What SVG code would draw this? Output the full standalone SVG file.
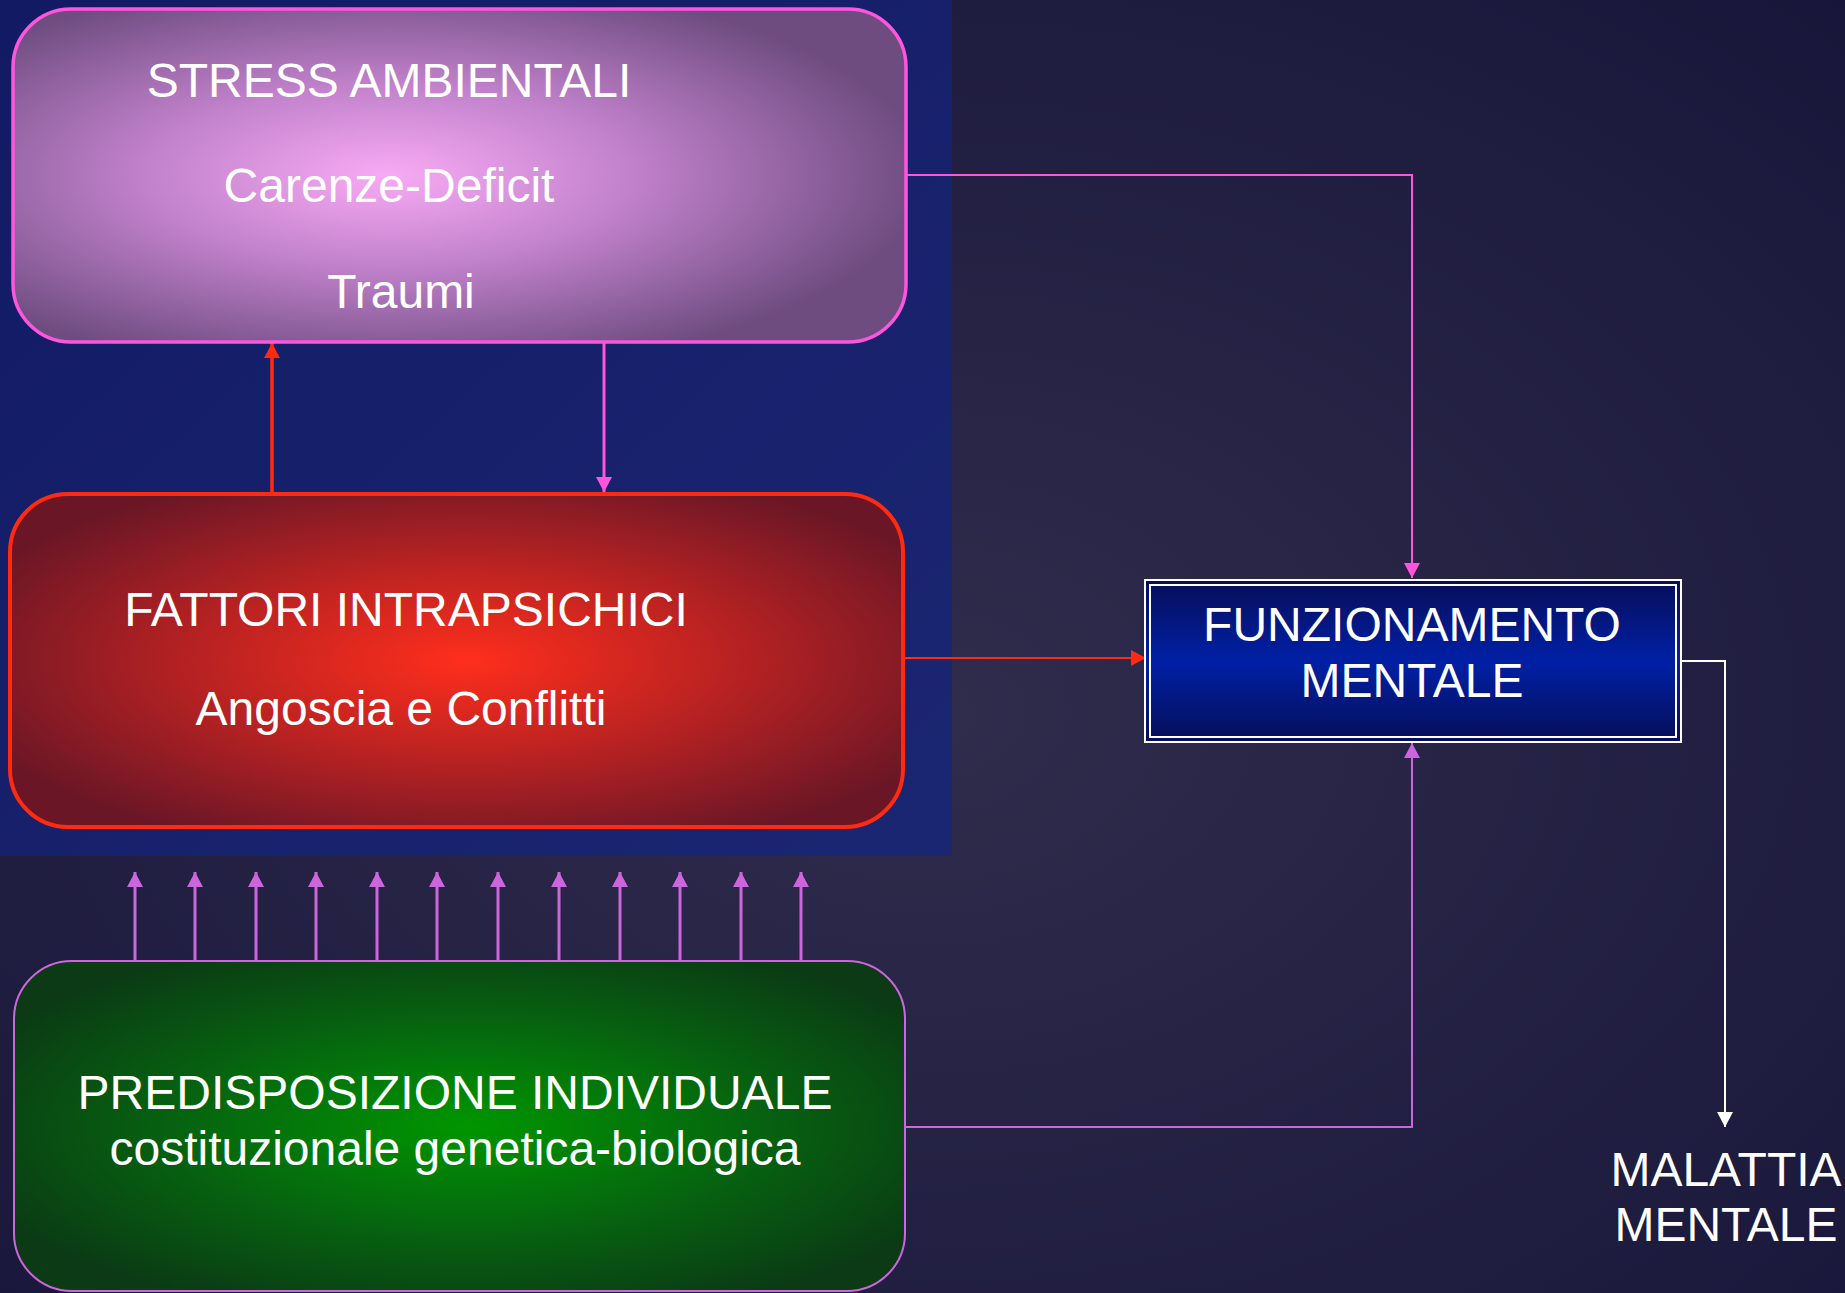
<svg xmlns="http://www.w3.org/2000/svg" width="1845" height="1293" viewBox="0 0 1845 1293">
<defs>
<style>
.t{font-family:"Liberation Sans",Arial,sans-serif;fill:#ffffff;font-size:48px;text-anchor:middle}
.c{fill:none}
</style>
<radialGradient id="bg" cx="0.5" cy="0.55" r="0.75">
<stop offset="0" stop-color="#302c4c"/>
<stop offset="1" stop-color="#17163a"/>
</radialGradient>
<linearGradient id="panel" x1="0" y1="0" x2="1" y2="1">
<stop offset="0" stop-color="#121a64"/>
<stop offset="1" stop-color="#1b2672"/>
</linearGradient>
<radialGradient id="gStress" cx="0.42" cy="0.5" r="0.6">
<stop offset="0" stop-color="#f8aaf4"/>
<stop offset="0.45" stop-color="#c282cc"/>
<stop offset="1" stop-color="#6e4c80"/>
</radialGradient>
<radialGradient id="gFatt" cx="0.51" cy="0.5" r="0.6">
<stop offset="0" stop-color="#ff2e1c"/>
<stop offset="0.5" stop-color="#b82222"/>
<stop offset="1" stop-color="#6a1626"/>
</radialGradient>
<radialGradient id="gPred" cx="0.51" cy="0.5" r="0.6">
<stop offset="0" stop-color="#009600"/>
<stop offset="0.55" stop-color="#066210"/>
<stop offset="1" stop-color="#0b3a14"/>
</radialGradient>
<linearGradient id="gFunz" x1="0" y1="0" x2="0" y2="1">
<stop offset="0" stop-color="#070e58"/>
<stop offset="0.5" stop-color="#0020a6"/>
<stop offset="1" stop-color="#070e58"/>
</linearGradient>
<marker id="aRed" viewBox="0 0 15 16" refX="15" refY="8" markerWidth="15" markerHeight="16" markerUnits="userSpaceOnUse" orient="auto"><path d="M0,0 L15,8 L0,16 z" fill="#ff2a10"/></marker>
<marker id="aPink" viewBox="0 0 15 16" refX="15" refY="8" markerWidth="15" markerHeight="16" markerUnits="userSpaceOnUse" orient="auto"><path d="M0,0 L15,8 L0,16 z" fill="#ff55dd"/></marker>
<marker id="aOrch" viewBox="0 0 15 16" refX="15" refY="8" markerWidth="15" markerHeight="16" markerUnits="userSpaceOnUse" orient="auto"><path d="M0,0 L15,8 L0,16 z" fill="#cc66dd"/></marker>
<marker id="aWhite" viewBox="0 0 15 16" refX="15" refY="8" markerWidth="15" markerHeight="16" markerUnits="userSpaceOnUse" orient="auto"><path d="M0,0 L15,8 L0,16 z" fill="#ffffff"/></marker>
</defs>
<rect x="0" y="0" width="1845" height="1293" fill="url(#bg)"/>
<rect x="0" y="0" width="952" height="856" fill="url(#panel)"/>

<g id="connectors">
<path class="c" d="M272,494 V343" stroke="#ff2a10" stroke-width="3.5" marker-end="url(#aRed)"/>
<path class="c" d="M604,342 V492" stroke="#ff55dd" stroke-width="3" marker-end="url(#aPink)"/>
<path class="c" d="M906,175 H1412 V578" stroke="#ff55dd" stroke-width="2" marker-end="url(#aPink)"/>
<path class="c" d="M903,658 H1146" stroke="#ff2a10" stroke-width="2" marker-end="url(#aRed)"/>
<path class="c" d="M905,1127 H1412 V743" stroke="#cc66dd" stroke-width="2" marker-end="url(#aOrch)"/>
<path class="c" d="M1681,661 H1725 V1127" stroke="#ffffff" stroke-width="2" marker-end="url(#aWhite)"/>
<g stroke="#cc66dd" stroke-width="3" class="c">
<path class="c" d="M135,960 V872" marker-end="url(#aOrch)"/>
<path class="c" d="M195,960 V872" marker-end="url(#aOrch)"/>
<path class="c" d="M256,960 V872" marker-end="url(#aOrch)"/>
<path class="c" d="M316,960 V872" marker-end="url(#aOrch)"/>
<path class="c" d="M377,960 V872" marker-end="url(#aOrch)"/>
<path class="c" d="M437,960 V872" marker-end="url(#aOrch)"/>
<path class="c" d="M498,960 V872" marker-end="url(#aOrch)"/>
<path class="c" d="M559,960 V872" marker-end="url(#aOrch)"/>
<path class="c" d="M620,960 V872" marker-end="url(#aOrch)"/>
<path class="c" d="M680,960 V872" marker-end="url(#aOrch)"/>
<path class="c" d="M741,960 V872" marker-end="url(#aOrch)"/>
<path class="c" d="M801,960 V872" marker-end="url(#aOrch)"/>
</g>
</g>

<g id="stress">
<rect x="13" y="9" width="893" height="333" rx="58" ry="58" fill="url(#gStress)" stroke="#ff55dd" stroke-width="3.5"/>
<text class="t" x="389" y="97">STRESS AMBIENTALI</text>
<text class="t" x="389" y="202">Carenze-Deficit</text>
<text class="t" x="401" y="308">Traumi</text>
</g>

<g id="fattori">
<rect x="10" y="494" width="893" height="333" rx="58" ry="58" fill="url(#gFatt)" stroke="#ff2a10" stroke-width="4"/>
<text class="t" x="406" y="626">FATTORI INTRAPSICHICI</text>
<text class="t" x="401" y="725">Angoscia e Conflitti</text>
</g>

<g id="predisposizione">
<rect x="14" y="961" width="891" height="330" rx="58" ry="58" fill="url(#gPred)" stroke="#cc66dd" stroke-width="2"/>
<text class="t" x="455" y="1109">PREDISPOSIZIONE INDIVIDUALE</text>
<text class="t" x="455" y="1165">costituzionale genetica-biologica</text>
</g>

<g id="funzionamento">
<rect x="1145" y="580" width="536" height="162" fill="url(#gFunz)" stroke="#ffffff" stroke-width="2"/>
<rect x="1150" y="585" width="526" height="152" fill="none" stroke="#ffffff" stroke-width="2"/>
<text class="t" x="1412" y="641">FUNZIONAMENTO</text>
<text class="t" x="1412" y="697">MENTALE</text>
</g>

<g id="malattia">
<text class="t" x="1726" y="1186">MALATTIA</text>
<text class="t" x="1726" y="1241">MENTALE</text>
</g>
</svg>
